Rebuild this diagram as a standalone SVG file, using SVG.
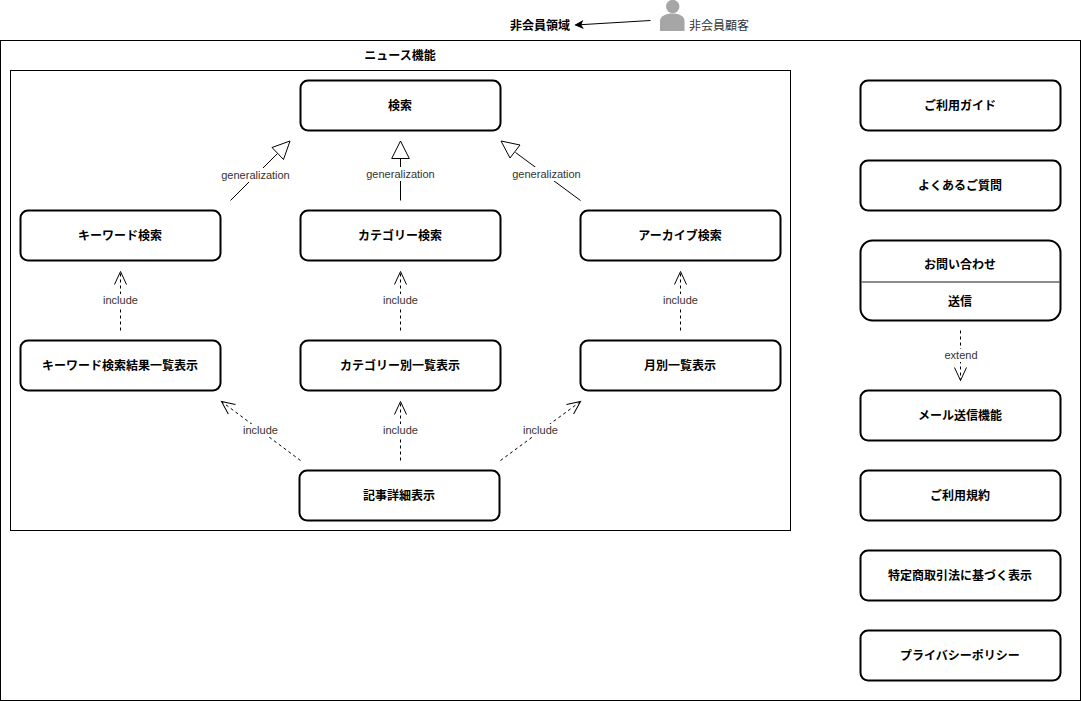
<svg xmlns="http://www.w3.org/2000/svg" width="1081" height="701" viewBox="0 0 1081 701">
<style>
text{font-family:"Liberation Sans","Noto Sans CJK JP",sans-serif;text-anchor:middle}
.box{fill:#fff;stroke:#000;stroke-width:2;transform:translate(.5px,.5px)}
.frame{fill:#fff;stroke:#000;stroke-width:1}
.t{font-size:12px;font-weight:700;fill:#000;opacity:.999}
.l{font-size:11px;fill:#333;opacity:.999}
.lb{fill:#fff;stroke:none}
.ln{fill:none;stroke:#000;stroke-width:1;transform:translate(.5px,.5px)}
.d{stroke-dasharray:3 3}
.gen{fill:#fff;stroke:#000;stroke-width:1}
</style>
<defs>
<marker id="open" markerUnits="userSpaceOnUse" markerWidth="20" markerHeight="20" refX="15" refY="10" orient="auto" overflow="visible"><path d="M2 4L15 10L2 16" fill="none" stroke="#000" stroke-width="1"/></marker>
<marker id="solid" markerUnits="userSpaceOnUse" markerWidth="12" markerHeight="12" refX="8" refY="6" orient="auto" overflow="visible"><path d="M1 2.500L8 6L1 9.500L2.800 6Z" fill="#000" stroke="#000"/></marker>
</defs>
<rect class="frame" x="0.5" y="40.5" width="1080" height="660"/>
<rect class="frame" x="10.5" y="70.5" width="780" height="460"/>
<text class="t" x="400" y="60">ニュース機能</text>
<text class="t" x="540" y="30">非会員領域</text>
<g id="actor">
<circle cx="672.700" cy="6.500" r="6.700" fill="#a6a6a6"/>
<path d="M660 31V21C660 16 666 13.500 672.500 13.500C679 13.500 684.500 16 684.500 21V31Z" fill="#a6a6a6"/>
<text x="719" y="30" font-size="12" fill="#333" opacity=".999">非会員顧客</text>
</g>
<g id="connectors">
<path class="ln" d="M650 20L575 24.500" marker-end="url(#solid)"/>
<path class="ln" d="M230 200L277 153"/><path class="gen" d="M290 141L272 147.500L283.500 159.500Z"/>
<path class="ln" d="M400 200V158"/><path class="gen" d="M400.500 141L409.300 158.500H391.700Z"/>
<path class="ln" d="M580 200L515 152"/><path class="gen" d="M501 141L520 145L510 158Z"/>
<path class="ln d" d="M120 330V271" marker-end="url(#open)"/>
<path class="ln d" d="M400 330V271" marker-end="url(#open)"/>
<path class="ln d" d="M680 330V271" marker-end="url(#open)"/>
<path class="ln d" d="M300 460L221 401" marker-end="url(#open)"/>
<path class="ln d" d="M400 460V401" marker-end="url(#open)"/>
<path class="ln d" d="M500 460L580 401" marker-end="url(#open)"/>
<path class="ln d" d="M960 330V380" marker-end="url(#open)"/>
<rect class="lb" x="220" y="168" width="70" height="14"/><text class="l" x="255.500" y="179">generalization</text>
<rect class="lb" x="365" y="167" width="70" height="14"/><text class="l" x="400.500" y="178">generalization</text>
<rect class="lb" x="511" y="167" width="70" height="14"/><text class="l" x="546.500" y="178">generalization</text>
<rect class="lb" x="102" y="294" width="36" height="13"/><text class="l" x="120.500" y="304">include</text>
<rect class="lb" x="382" y="294" width="36" height="13"/><text class="l" x="400.500" y="304">include</text>
<rect class="lb" x="662" y="294" width="36" height="13"/><text class="l" x="680.500" y="304">include</text>
<rect class="lb" x="242" y="424" width="36" height="13"/><text class="l" x="260.500" y="434">include</text>
<rect class="lb" x="382" y="424" width="36" height="13"/><text class="l" x="400.500" y="434">include</text>
<rect class="lb" x="522" y="424" width="36" height="13"/><text class="l" x="540.500" y="434">include</text>
<rect class="lb" x="944" y="349" width="34" height="13"/><text class="l" x="961" y="359">extend</text>
</g>
<g id="n-search"><rect class="box" x="300" y="80" width="200" height="50" rx="7.500"/><text class="t" x="400" y="110">検索</text></g>
<g id="n-keyword"><rect class="box" x="20" y="210" width="200" height="50" rx="7.500"/><text class="t" x="120" y="240">キーワード検索</text></g>
<g id="n-category"><rect class="box" x="300" y="210" width="200" height="50" rx="7.500"/><text class="t" x="400" y="240">カテゴリー検索</text></g>
<g id="n-archive"><rect class="box" x="580" y="210" width="200" height="50" rx="7.500"/><text class="t" x="680" y="240">アーカイブ検索</text></g>
<g id="n-keyword-list"><rect class="box" x="20" y="340" width="200" height="50" rx="7.500"/><text class="t" x="120" y="370">キーワード検索結果一覧表示</text></g>
<g id="n-category-list"><rect class="box" x="300" y="340" width="200" height="50" rx="7.500"/><text class="t" x="400" y="370">カテゴリー別一覧表示</text></g>
<g id="n-month-list"><rect class="box" x="580" y="340" width="200" height="50" rx="7.500"/><text class="t" x="680" y="370">月別一覧表示</text></g>
<g id="n-article"><rect class="box" x="299" y="470" width="200" height="50" rx="7.500"/><text class="t" x="399" y="500">記事詳細表示</text></g>
<g id="n-guide"><rect class="box" x="860" y="80" width="200" height="50" rx="7.500"/><text class="t" x="960" y="110">ご利用ガイド</text></g>
<g id="n-faq"><rect class="box" x="860" y="160" width="200" height="50" rx="7.500"/><text class="t" x="960" y="190">よくあるご質問</text></g>
<g id="n-contact"><rect class="box" x="860" y="240" width="200" height="80" rx="12"/><path d="M861 282H1060" fill="none" stroke="#666" stroke-width="1.500"/><text class="t" x="960" y="269">お問い合わせ</text><text class="t" x="960" y="306">送信</text></g>
<g id="n-mail"><rect class="box" x="860" y="390" width="200" height="50" rx="7.500"/><text class="t" x="960" y="420">メール送信機能</text></g>
<g id="n-terms"><rect class="box" x="860" y="470" width="200" height="50" rx="7.500"/><text class="t" x="960" y="500">ご利用規約</text></g>
<g id="n-law"><rect class="box" x="860" y="550" width="200" height="50" rx="7.500"/><text class="t" x="960" y="580">特定商取引法に基づく表示</text></g>
<g id="n-privacy"><rect class="box" x="860" y="630" width="200" height="50" rx="7.500"/><text class="t" x="960" y="660">プライバシーポリシー</text></g>
</svg>
